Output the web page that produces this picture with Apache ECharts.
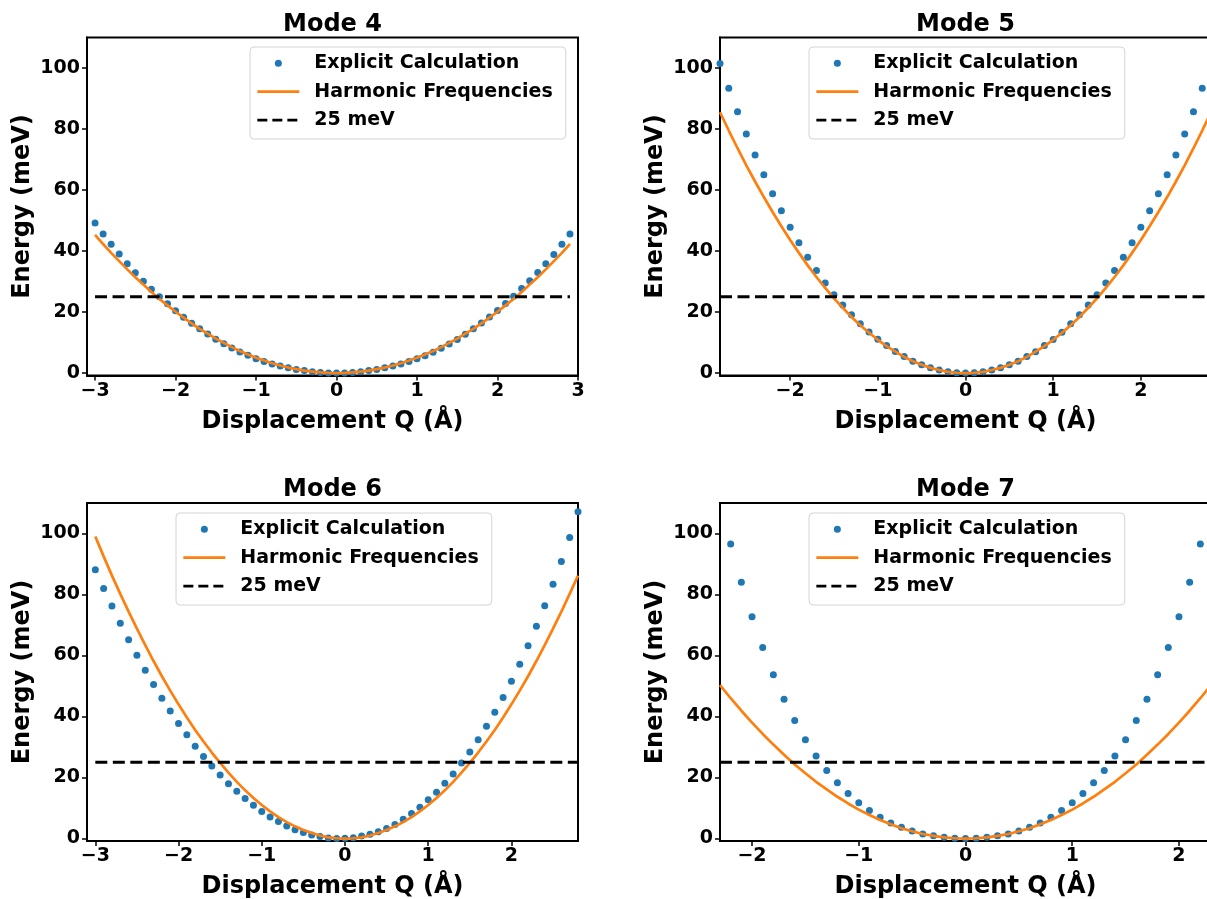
<!DOCTYPE html>
<html>
<head>
<meta charset="utf-8">
<title>Modes 4-7: explicit vs harmonic energies</title>
<script src="https://cdn.jsdelivr.net/npm/echarts@6.0.0/dist/echarts.min.js"></script>
<style>
  html, body { margin: 0; padding: 0; background: #fff; }
  #chart { width: 1207px; height: 899px; }
</style>
</head>
<body>
<div id="chart"></div>
<script>
// panel titles and legend entries
const modeTitles = ['Mode 4', 'Mode 5', 'Mode 6', 'Mode 7'];
const legendNames = ['Explicit Calculation', 'Harmonic Frequencies', '25 meV'];
const threshold = 25;

// Mode 4
const q4 = [-3.0,-2.9,-2.8,-2.7,-2.6,-2.5,-2.4,-2.3,-2.2,-2.1,-2.0,-1.9,-1.8,-1.7,-1.6,-1.5,-1.4,-1.3,-1.2,-1.1,
  -1.0,-0.9,-0.8,-0.7,-0.6,-0.5,-0.4,-0.3,-0.2,-0.1,0.0,0.1,0.2,0.3,0.4,0.5,0.6,0.7,0.8,0.9,
  1.0,1.1,1.2,1.3,1.4,1.5,1.6,1.7,1.8,1.9,2.0,2.1,2.2,2.3,2.4,2.5,2.6,2.7,2.8,2.9];
const e4 = [49.2,45.6,42.2,39.0,35.8,32.9,30.1,27.5,25.0,22.7,20.4,18.3,16.3,14.5,12.8,11.1,9.6,8.2,6.9,5.8,
  4.7,3.8,3.0,2.3,1.7,1.2,0.8,0.4,0.2,0.05,0.0,0.05,0.2,0.4,0.8,1.2,1.7,2.3,3.0,3.8,
  4.7,5.7,6.8,8.1,9.5,11.0,12.7,14.5,16.4,18.4,20.5,22.8,25.2,27.7,30.3,33.0,35.8,38.9,42.2,45.6];
const h4 = [45.3,42.3,39.4,36.7,34.0,31.4,29.0,26.6,24.3,22.2,20.1,18.2,16.3,14.5,12.9,11.3,9.9,8.5,7.2,6.1,
  5.0,4.1,3.2,2.5,1.8,1.3,0.8,0.5,0.2,0.05,0.0,0.05,0.2,0.5,0.8,1.3,1.8,2.5,3.2,4.1,
  5.0,6.1,7.2,8.5,9.9,11.3,12.9,14.5,16.3,18.2,20.1,22.2,24.3,26.6,29.0,31.4,34.0,36.7,39.4,42.3];

// Mode 5
const q5 = [-2.8,-2.7,-2.6,-2.5,-2.4,-2.3,-2.2,-2.1,-2.0,-1.9,-1.8,-1.7,-1.6,-1.5,-1.4,-1.3,-1.2,-1.1,-1.0,
  -0.9,-0.8,-0.7,-0.6,-0.5,-0.4,-0.3,-0.2,-0.1,0.0,0.1,0.2,0.3,0.4,0.5,0.6,0.7,0.8,0.9,
  1.0,1.1,1.2,1.3,1.4,1.5,1.6,1.7,1.8,1.9,2.0,2.1,2.2,2.3,2.4,2.5,2.6,2.7,2.8];
const e5 = [101.5,93.4,85.7,78.4,71.5,65.0,58.8,53.2,47.8,42.7,38.0,33.6,29.5,25.7,22.3,19.1,16.2,13.5,11.1,
  9.0,7.1,5.4,3.9,2.7,1.7,1.0,0.4,0.1,0.0,0.1,0.4,1.0,1.7,2.7,3.9,5.4,7.0,9.0,
  11.0,13.4,16.2,19.1,22.3,25.7,29.5,33.6,38.0,42.7,47.8,53.2,58.8,65.0,71.5,78.4,85.7,93.4,101.5];
const h5 = [85.5,79.5,73.7,68.1,62.8,57.7,52.8,48.1,43.6,39.4,35.3,31.5,27.9,24.5,21.4,18.4,15.7,13.2,10.9,
  8.8,7.0,5.3,3.9,2.7,1.7,1.0,0.4,0.1,0.0,0.1,0.4,1.0,1.7,2.7,3.9,5.3,7.0,8.8,
  10.9,13.2,15.7,18.4,21.4,24.5,27.9,31.5,35.3,39.4,43.6,48.1,52.8,57.7,62.8,68.1,73.7,79.5,85.5];

// Mode 6
const q6 = [-3.0,-2.9,-2.8,-2.7,-2.6,-2.5,-2.4,-2.3,-2.2,-2.1,-2.0,-1.9,-1.8,-1.7,-1.6,-1.5,-1.4,-1.3,-1.2,-1.1,
  -1.0,-0.9,-0.8,-0.7,-0.6,-0.5,-0.4,-0.3,-0.2,-0.1,0.0,0.1,0.2,0.3,0.4,0.5,0.6,0.7,0.8,0.9,
  1.0,1.1,1.2,1.3,1.4,1.5,1.6,1.7,1.8,1.9,2.0,2.1,2.2,2.3,2.4,2.5,2.6,2.7,2.8];
const e6 = [88.1,82.0,76.2,70.6,65.2,60.1,55.2,50.5,46.0,41.8,37.7,34.0,30.3,26.9,23.8,20.8,18.0,15.5,13.1,10.9,
  8.9,7.1,5.6,4.1,2.9,2.0,1.2,0.7,0.2,0.0,0.1,0.3,0.8,1.4,2.2,3.3,4.6,6.3,8.2,10.3,
  12.7,15.2,18.1,21.2,24.8,28.4,32.4,36.8,41.4,46.2,51.6,57.1,63.2,69.6,76.3,83.4,90.8,98.7,107.1];
const h6 = [99.0,92.5,86.2,80.2,74.4,68.8,63.4,58.2,53.2,48.5,44.0,39.7,35.6,31.8,28.2,24.8,21.6,18.6,15.8,13.3,
  11.0,8.9,7.0,5.4,4.0,2.8,1.8,1.0,0.4,0.1,0.0,0.1,0.4,1.0,1.8,2.8,4.0,5.4,7.0,8.9,
  11.0,13.3,15.8,18.6,21.6,24.8,28.2,31.8,35.6,39.7,44.0,48.5,53.2,58.2,63.4,68.8,74.4,80.2,86.2];

// Mode 7
const q7 = [-2.2,-2.1,-2.0,-1.9,-1.8,-1.7,-1.6,-1.5,-1.4,-1.3,-1.2,-1.1,-1.0,-0.9,-0.8,-0.7,-0.6,-0.5,-0.4,-0.3,-0.2,-0.1,
  0.0,0.1,0.2,0.3,0.4,0.5,0.6,0.7,0.8,0.9,1.0,1.1,1.2,1.3,1.4,1.5,1.6,1.7,1.8,1.9,2.0,2.1,2.2];
const e7 = [96.6,84.0,72.7,62.6,53.7,45.7,38.7,32.4,27.1,22.3,18.3,14.8,11.7,9.2,7.0,5.1,3.7,2.5,1.5,0.9,0.4,0.1,
  0.0,0.1,0.4,0.9,1.5,2.5,3.7,5.1,7.0,9.2,11.7,14.8,18.3,22.3,27.1,32.4,38.7,45.7,53.7,62.6,72.7,84.0,96.6];
const qFit7 = [-2.3,-2.2,-2.1,-2.0,-1.9,-1.8,-1.7,-1.6,-1.5,-1.4,-1.3,-1.2,-1.1,-1.0,-0.9,-0.8,-0.7,-0.6,-0.5,-0.4,-0.3,-0.2,-0.1,
  0.0,0.1,0.2,0.3,0.4,0.5,0.6,0.7,0.8,0.9,1.0,1.1,1.2,1.3,1.4,1.5,1.6,1.7,1.8,1.9,2.0,2.1,2.2,2.3];
const h7 = [50.3,46.0,41.9,38.0,34.3,30.8,27.5,24.3,21.4,18.6,16.1,13.7,11.5,9.5,7.7,6.1,4.7,3.4,2.4,1.5,0.9,0.4,0.1,
  0.0,0.1,0.4,0.9,1.5,2.4,3.4,4.7,6.1,7.7,9.5,11.5,13.7,16.1,18.6,21.4,24.3,27.5,30.8,34.3,38.0,41.9,46.0,50.3];

// axis ranges and tick labels
const xRanges = [[-3.1, 3.0], [-2.8, 2.8], [-3.1, 2.8], [-2.3, 2.3]];
const xTickValues = [[-3, -2, -1, 0, 1, 2, 3], [-2, -1, 0, 1, 2], [-3, -2, -1, 0, 1, 2], [-2, -1, 0, 1, 2]];
const yRange = [-0.8, 110];
const yTickValues = [0, 20, 40, 60, 80, 100];

const panelData = [
  { q: q4, e: e4, qFit: q4, h: h4 },
  { q: q5, e: e5, qFit: q5, h: h5 },
  { q: q6, e: e6, qFit: q6, h: h6 },
  { q: q7, e: e7, qFit: qFit7, h: h7 }
];

// layout (pixels); the right-hand panels run past the page edge like the source image
const gridBoxes = [
  { left: 87, top: 37.5 }, { left: 720, top: 37.5 },
  { left: 87, top: 503 }, { left: 720, top: 503 }
];
const legendBoxes = [
  { left: 250, top: 47 }, { left: 809, top: 47 },
  { left: 176, top: 513 }, { left: 809, top: 513 }
];
const plotW = 491, plotH = 338;
const font = 'DejaVu Sans';
const blue = '#1f77b4', orange = '#ff7f0e';

const minusFmt = v => (v < 0 ? '\u2212' + (-v) : String(v));

const grid = [], xAxis = [], yAxis = [], series = [], title = [], legend = [];

panelData.forEach((p, i) => {
  const box = gridBoxes[i];
  grid.push({
    left: box.left, top: box.top, width: plotW, height: plotH,
    outerBoundsMode: 'none', containLabel: false,
    show: true, borderColor: '#000', borderWidth: 2, backgroundColor: 'transparent'
  });

  title.push({
    text: modeTitles[i],
    left: box.left + plotW / 2, top: box.top - 25,
    textAlign: 'center', textVerticalAlign: 'top', padding: 0,
    textStyle: { fontFamily: font, fontSize: 24, fontWeight: 'bold', color: '#000' }
  });

  xAxis.push({
    type: 'value', gridIndex: i,
    min: xRanges[i][0], max: xRanges[i][1],
    name: 'Displacement Q (Å)', nameLocation: 'middle', nameGap: 34,
    nameTextStyle: { fontFamily: font, fontSize: 24, fontWeight: 'bold', color: '#000' },
    axisLine: { show: true, onZero: false, lineStyle: { color: '#000', width: 2 } },
    axisTick: { show: true, length: 5, customValues: xTickValues[i], lineStyle: { color: '#000', width: 1.5 } },
    axisLabel: {
      customValues: xTickValues[i], formatter: minusFmt, margin: 6,
      fontFamily: font, fontSize: 19, fontWeight: 'bold', color: '#000'
    },
    splitLine: { show: false }
  });

  yAxis.push({
    type: 'value', gridIndex: i,
    min: yRange[0], max: yRange[1],
    name: 'Energy (meV)', nameLocation: 'middle', nameGap: 52,
    nameTextStyle: { fontFamily: font, fontSize: 24, fontWeight: 'bold', color: '#000' },
    axisLine: { show: true, onZero: false, lineStyle: { color: '#000', width: 2 } },
    axisTick: { show: true, length: 5, customValues: yTickValues, lineStyle: { color: '#000', width: 1.5 } },
    axisLabel: {
      customValues: yTickValues, margin: 7,
      fontFamily: font, fontSize: 19, fontWeight: 'bold', color: '#000'
    },
    splitLine: { show: false }
  });

  series.push({
    type: 'scatter', name: legendNames[0], xAxisIndex: i, yAxisIndex: i,
    data: p.q.map((x, k) => [x, p.e[k]]),
    symbol: 'circle', symbolSize: 7, itemStyle: { color: blue, opacity: 1 }, z: 2
  });
  series.push({
    type: 'line', name: legendNames[1], xAxisIndex: i, yAxisIndex: i,
    data: p.qFit.map((x, k) => [x, p.h[k]]),
    symbol: 'none', smooth: false,
    lineStyle: { color: orange, width: 2.7 }, itemStyle: { color: orange }, z: 3
  });
  series.push({
    type: 'line', name: legendNames[2], xAxisIndex: i, yAxisIndex: i,
    data: [[p.qFit[0], threshold], [p.qFit[p.qFit.length - 1], threshold]],
    symbol: 'none',
    lineStyle: { color: '#000', width: 3, type: [12, 5.5] }, itemStyle: { color: '#000' }, z: 4
  });

  legend.push({
    orient: 'vertical',
    left: legendBoxes[i].left, top: legendBoxes[i].top,
    data: [
      { name: legendNames[0], itemStyle: { opacity: 1 } },
      { name: legendNames[1], itemStyle: { opacity: 0 } },
      { name: legendNames[2], itemStyle: { opacity: 0 }, lineStyle: { type: [10, 5], width: 2.7 } }
    ],
    itemWidth: 42, itemHeight: 7, itemGap: 6.4,
    padding: [5.3, 13, 7.9, 6],
    backgroundColor: '#fff', borderColor: '#d4d4d4', borderWidth: 1, borderRadius: 4,
    lineStyle: { width: 2.7 },
    selectedMode: false,
    textStyle: {
      fontFamily: font, fontSize: 19, fontWeight: 'bold', color: '#000',
      lineHeight: 22, padding: [0, 0, 0, 10]
    }
  });
});

const chart = echarts.init(document.getElementById('chart'));
chart.setOption({
  animation: false,
  backgroundColor: '#fff',
  title, legend, grid, xAxis, yAxis, series
});
window.addEventListener('resize', () => chart.resize());
</script>
</body>
</html>
